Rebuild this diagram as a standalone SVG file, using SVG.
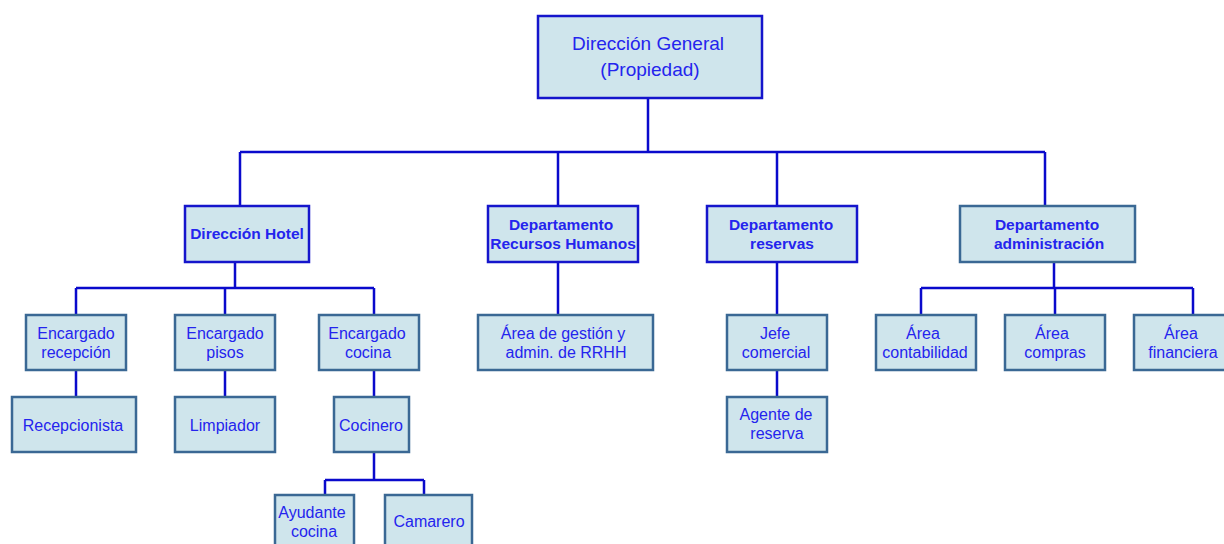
<svg xmlns="http://www.w3.org/2000/svg" width="1224" height="544" viewBox="0 0 1224 544">
<style>
.b{fill:#cfe5ec;stroke:#3a6894;stroke-width:2.5}
.bb{fill:#cfe5ec;stroke:#1515cc;stroke-width:2.5}
text{font-family:"Liberation Sans",Arial,sans-serif;font-size:16px;fill:#2424ee;text-anchor:middle}
.t{font-size:19px}
.h{font-weight:bold;font-size:15.5px}
#conn path{fill:none;stroke:#0a0acc;stroke-width:2.5}
</style>
<rect width="1224" height="544" fill="#fff"/>
<g id="conn">
<path d="M648 98V152M240 152H1045M240 152V206M558 152V206M777 152V206M1045 152V206"/>
<path d="M235 262V288M76 288H374M76 288V315M225 288V315M374 288V315"/>
<path d="M76 370V397M225 370V397M374 370V397M374 452V480M325 480H424M325 480V495M424 480V495"/>
<path d="M558 262V315M777 262V315M777 370V397"/>
<path d="M1054 262V288M921 288H1193M921 288V315M1055 288V315M1193 288V315"/>
</g>
<g id="n-dg"><rect class="bb" x="538" y="16" width="224" height="82"/><text class="t" x="648" y="50">Dirección General</text><text class="t" x="650" y="76">(Propiedad)</text></g>
<g id="n-dh"><rect class="bb" x="185" y="206" width="124" height="56"/><text class="h" x="247" y="239">Dirección Hotel</text></g>
<g id="n-rrhh"><rect class="bb" x="488" y="206" width="150" height="56"/><text class="h" x="561" y="230">Departamento</text><text class="h" x="563" y="249">Recursos Humanos</text></g>
<g id="n-res"><rect class="bb" x="707" y="206" width="150" height="56"/><text class="h" x="781" y="230">Departamento</text><text class="h" x="782" y="249">reservas</text></g>
<g id="n-adm"><rect class="b" x="960" y="206" width="175" height="56"/><text class="h" x="1047" y="230">Departamento</text><text class="h" x="1049" y="249">administración</text></g>
<g id="n-er"><rect class="b" x="26" y="315" width="100" height="55"/><text x="76" y="339">Encargado</text><text x="76" y="358">recepción</text></g>
<g id="n-ep"><rect class="b" x="175" y="315" width="100" height="55"/><text x="225" y="339">Encargado</text><text x="225" y="358">pisos</text></g>
<g id="n-ec"><rect class="b" x="319" y="315" width="100" height="55"/><text x="367" y="339">Encargado</text><text x="368" y="358">cocina</text></g>
<g id="n-rec"><rect class="b" x="12" y="397" width="124" height="55"/><text x="73" y="431">Recepcionista</text></g>
<g id="n-lim"><rect class="b" x="175" y="397" width="100" height="55"/><text x="225" y="431">Limpiador</text></g>
<g id="n-coc"><rect class="b" x="334" y="397" width="75" height="55"/><text x="371" y="431">Cocinero</text></g>
<g id="n-ayu"><rect class="b" x="275" y="495" width="79" height="60"/><text x="312" y="518">Ayudante</text><text x="314" y="537">cocina</text></g>
<g id="n-cam"><rect class="b" x="385" y="495" width="87" height="60"/><text x="429" y="527">Camarero</text></g>
<g id="n-ag"><rect class="b" x="478" y="315" width="175" height="55"/><text x="563" y="339">Área de gestión y</text><text x="566" y="358">admin. de RRHH</text></g>
<g id="n-jefe"><rect class="b" x="727" y="315" width="100" height="55"/><text x="775" y="339">Jefe</text><text x="776" y="358">comercial</text></g>
<g id="n-agr"><rect class="b" x="727" y="397" width="100" height="55"/><text x="776" y="420">Agente de</text><text x="777" y="439">reserva</text></g>
<g id="n-cont"><rect class="b" x="876" y="315" width="100" height="55"/><text x="923" y="339">Área</text><text x="925" y="358">contabilidad</text></g>
<g id="n-comp"><rect class="b" x="1005" y="315" width="100" height="55"/><text x="1052" y="339">Área</text><text x="1055" y="358">compras</text></g>
<g id="n-fin"><rect class="b" x="1134" y="315" width="100" height="55"/><text x="1181" y="339">Área</text><text x="1183" y="358">financiera</text></g>
</svg>
